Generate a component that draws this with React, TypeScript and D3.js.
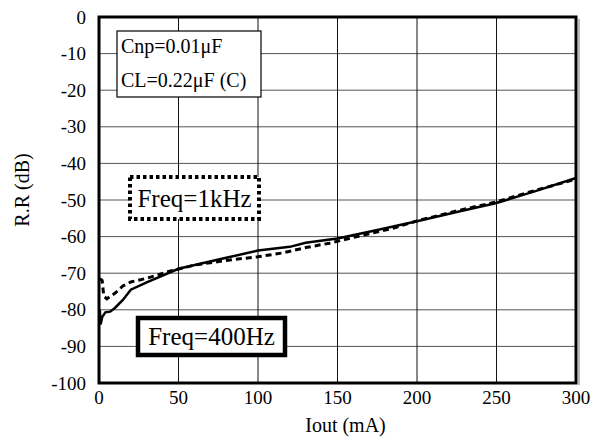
import React from "react";
import * as d3 from "d3";

const xTicks = [0, 50, 100, 150, 200, 250, 300];
const yTicks = [0, -10, -20, -30, -40, -50, -60, -70, -80, -90, -100];

const hz400X = [0.5, 1, 2, 4, 7, 10, 15, 20, 30, 50, 80, 100, 120, 130, 150, 175, 200, 225, 250, 275, 300];
const hz400Y = [-80, -84, -82, -80.7, -80.5, -79.5, -77.3, -74.5, -72.5, -68.8, -65.8, -63.8, -62.8, -61.7, -60.5, -58.2, -55.8, -53.3, -50.8, -47.5, -44];

const khz1X = [0.5, 2, 3, 5, 7, 10, 15, 20, 30, 45, 60, 80, 100, 115, 130, 145, 165, 185, 200, 225, 250, 275, 300];
const khz1Y = [-71.5, -72, -76.3, -77, -76.3, -75.5, -73.5, -72.4, -71.4, -69.4, -67.8, -66.5, -65.5, -64.5, -63, -61.8, -59.7, -57.7, -55.7, -53, -50.5, -47.3, -44.3];

const W = 595, H = 442;
const L = 99, R = 576, T = 17, B = 383;
const FONT = "'Liberation Serif', 'Times New Roman', serif";

export default function App() {
  const x = d3.scaleLinear().domain([0, 300]).range([L, R]);
  const y = d3.scaleLinear().domain([-100, 0]).range([B, T]);
  const line = d3.line<[number, number]>().x(d => x(d[0])).y(d => y(d[1]));
  const s400 = hz400X.map((v, i) => [v, hz400Y[i]] as [number, number]);
  const s1k = khz1X.map((v, i) => [v, khz1Y[i]] as [number, number]);
  return (
    <svg width={W} height={H} style={{ position: "absolute", left: 0, top: 0 }} fontFamily={FONT}>
      <rect width={W} height={H} fill="#fff" />
      {yTicks.filter(t => t !== 0 && t !== -100).map(t => (
        <line key={"gy" + t} x1={L} x2={R} y1={y(t)} y2={y(t)} stroke="#555" strokeWidth={1} />
      ))}
      {xTicks.filter(t => t !== 0 && t !== 300).map(t => (
        <line key={"gx" + t} x1={x(t)} x2={x(t)} y1={T} y2={B} stroke="#111" strokeWidth={1} />
      ))}
      <line x1={R + 3} x2={R + 3} y1={T + 2} y2={B + 2} stroke="#bbb" strokeWidth={2} />
      <rect x={L} y={T} width={R - L} height={B - T} fill="none" stroke="#000" strokeWidth={3} />
      {yTicks.map(t => (
        <text key={"ty" + t} x={L - 13} y={y(t)} dy="0.35em" textAnchor="end" fontSize={19}>{t}</text>
      ))}
      {xTicks.map(t => (
        <text key={"tx" + t} x={x(t)} y={B + 14} dy="0.35em" textAnchor="middle" fontSize={19}>{t}</text>
      ))}
      <text x={(L + R) / 2 + 8} y={425} dy="0.35em" textAnchor="middle" fontSize={20}>Iout (mA)</text>
      <text transform={`translate(29,190) rotate(-90)`} textAnchor="middle" fontSize={20}>R.R (dB)</text>

      <path d={line(s1k) || ""} fill="none" stroke="#000" strokeWidth={3} strokeDasharray="6,4" />
      <path d={line(s400) || ""} fill="none" stroke="#000" strokeWidth={2.5} />

      <rect x={117} y={31} width={144} height={66} fill="#fff" stroke="#000" strokeWidth={1.2} />
      <text x={121} y={46} dy="0.35em" fontSize={20}>Cnp=0.01μF</text>
      <text x={121} y={80} dy="0.35em" fontSize={20}>CL=0.22μF (C)</text>

      <rect x={130} y={177} width={129} height={42} fill="#fff" stroke="#000" strokeWidth={4} strokeDasharray="3.5,3" />
      <text x={194.5} y={198} dy="0.35em" textAnchor="middle" fontSize={25}>Freq=1kHz</text>

      <rect x={138} y={318} width={147} height={37} fill="#fff" stroke="#000" strokeWidth={4.5} />
      <text x={211.5} y={336.5} dy="0.35em" textAnchor="middle" fontSize={25}>Freq=400Hz</text>
    </svg>
  );
}
